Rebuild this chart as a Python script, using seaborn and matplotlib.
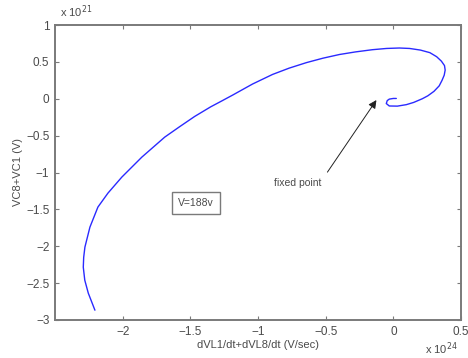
import matplotlib
matplotlib.use("Agg")
import matplotlib.pyplot as plt
import seaborn as sns
import pandas as pd

# Trajectory (x in units of 1e24 V/sec, y in units of 1e21 V)
x_vals = [-2.205, -2.254, -2.280, -2.291, -2.288, -2.279, -2.242, -2.183, -2.109, -2.006,
          -1.858, -1.689, -1.580, -1.468, -1.350, -1.268, -1.187, -1.040, -0.892, -0.770,
          -0.642, -0.520, -0.398, -0.280, -0.155, -0.050, 0.044, 0.120, 0.200, 0.270,
          0.320, 0.355, 0.378, 0.383, 0.376, 0.360, 0.339, 0.300, 0.255, 0.214, 0.150,
          0.096, 0.030, -0.030, -0.052, -0.045, -0.030, 0.000, 0.022]
y_vals = [-2.867, -2.636, -2.460, -2.284, -2.150, -2.012, -1.741, -1.469, -1.280, -1.062,
          -0.791, -0.520, -0.380, -0.240, -0.110, -0.030, 0.050, 0.200, 0.330, 0.415,
          0.490, 0.550, 0.600, 0.635, 0.665, 0.682, 0.688, 0.682, 0.660, 0.625,
          0.570, 0.510, 0.450, 0.389, 0.320, 0.250, 0.175, 0.100, 0.040, 0.000, -0.050,
          -0.080, -0.100, -0.098, -0.065, -0.025, -0.005, 0.004, 0.004]

x_ticks = [-2, -1.5, -1, -0.5, 0, 0.5]
y_ticks = [1, 0.5, 0, -0.5, -1, -1.5, -2, -2.5, -3]
x_tick_labels = ["\u22122", "\u22121.5", "\u22121", "\u22120.5", "0", "0.5"]
y_tick_labels = ["1", "0.5", "0", "\u22120.5", "\u22121", "\u22121.5", "\u22122", "\u22122.5", "\u22123"]

sns.set_style("white")
plt.rcParams["font.family"] = ["Liberation Sans", "DejaVu Sans"]

fig = plt.figure(figsize=(4.68, 3.58), dpi=100)
ax = fig.add_axes([55/468, 1-320/358, (461-55)/468, (320-25)/358])

df = pd.DataFrame({"x": x_vals, "y": y_vals})
sns.lineplot(data=df, x="x", y="y", sort=False, estimator=None, color="#2a2aff", linewidth=1.0, ax=ax)

ax.set_xlim(-2.5, 0.5)
ax.set_ylim(-3, 1)
ax.set_xticks(x_ticks)
ax.set_xticklabels(x_tick_labels)
ax.set_yticks(y_ticks)
ax.set_yticklabels(y_tick_labels)

gray = "#7a7a7a"
txt = "#4a4a4a"
for s in ax.spines.values():
    s.set_visible(True)
    s.set_color(gray)
    s.set_linewidth(1.4)
ax.tick_params(direction="in", length=3, width=0.8, color=gray, labelcolor=txt,
               labelsize=8.5, top=True, right=True, bottom=True, left=True, pad=4)

ax.set_xlabel("dVL1/dt+dVL8/dt (V/sec)", fontsize=8, color=txt, labelpad=2)
ax.set_ylabel("VC8+VC1 (V)", fontsize=8, color=txt, labelpad=2)

fig.text(60/468, 1-12/358, r"x 10$^{21}$", fontsize=8, color=txt, va="center", ha="left")
fig.text(425/468, 1-349/358, r"x 10$^{24}$", fontsize=8, color=txt, va="center", ha="left")

ax.text(-1.46, -1.415, "V=188v", fontsize=7.5, color=txt, ha="center", va="center",
        bbox=dict(boxstyle="square,pad=0.6", fc="white", ec=gray, lw=1.0))

ax.text(-0.708, -1.144, "fixed point", fontsize=7.5, color=txt, ha="center", va="center")
ax.annotate("", xy=(-0.125, -0.018), xytext=(-0.487, -0.995),
            arrowprops=dict(arrowstyle="-|>", color="#222222", lw=0.7, shrinkA=0, shrinkB=0,
                            mutation_scale=12))

ax.set_facecolor("white")
fig.patch.set_facecolor("white")
fig.savefig("out.png", dpi=100)
